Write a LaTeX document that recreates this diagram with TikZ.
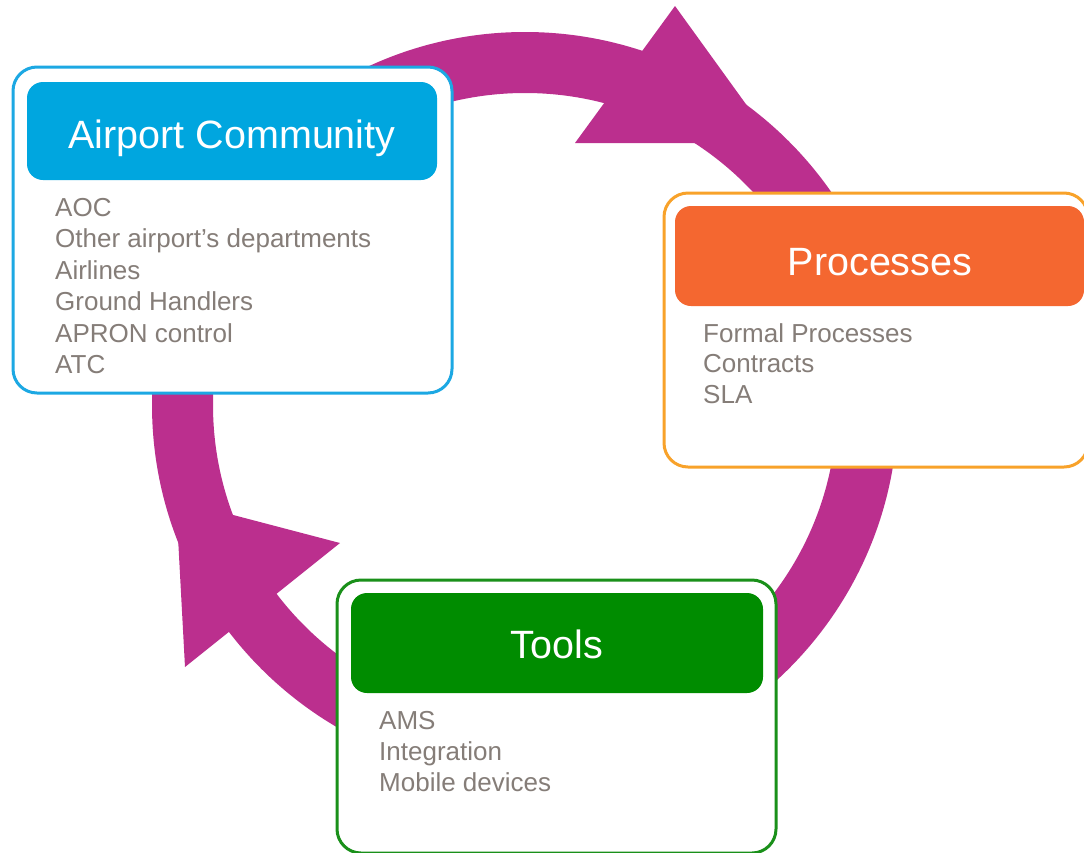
\documentclass[tikz,border=0pt]{standalone}
\usepackage{fontspec}
\setmainfont{Liberation Sans}
\definecolor{ringcol}{RGB}{187,47,142}
\definecolor{cyanborder}{RGB}{28,168,227}
\definecolor{cyanhead}{RGB}{0,166,223}
\definecolor{orangeborder}{RGB}{248,162,42}
\definecolor{orangehead}{RGB}{244,103,48}
\definecolor{greenborder}{RGB}{26,144,26}
\definecolor{greenhead}{RGB}{0,140,0}
\definecolor{itemgrey}{RGB}{133,125,120}
\tikzset{
  ring/.style={fill=ringcol, draw=none},
  outerbox/.style={draw=#1, line width=3pt, fill=white, rounded corners=24pt, rectangle, inner sep=0pt},
  headbox/.style={fill=#1, draw=none, rounded corners=16pt, rectangle, inner sep=0pt},
  headtext/.style={text=white, font=\fontsize{39.5}{44}\selectfont, inner sep=0pt, anchor=base},
  itemtext/.style={text=itemgrey, font=\fontsize{26}{31.5}\selectfont, inner sep=0pt, anchor=base west}
}
\begin{document}
\begin{tikzpicture}[x=1pt,y=-1pt]
\useasboundingbox (0,0) rectangle (1084,852);
% ring with two arrowheads
\fill[ring, even odd rule] (525,405) circle (373pt) (525,405) circle (312pt);
\fill[ring] (675,6) -- (575,143) -- (774,143) -- cycle;
\fill[ring] (340,543) -- (185,667) -- (176,500) -- cycle;
% Airport Community
\node[outerbox=cyanborder, minimum width=439pt, minimum height=326pt] (acbox) at (232.5,230) {};
\node[headbox=cyanhead, minimum width=410pt, minimum height=98pt] (achead) at (232,131) {};
\node[headtext] (actitle) at (232,148) {Airport Community};
\foreach \t [count=\i from 0] in {AOC, Other airport’s departments, Airlines, Ground Handlers, APRON control, ATC}
  \node[itemtext] (ac\i) at (55,216+31.5*\i) {\t};
% Processes
\node[outerbox=orangeborder, minimum width=424pt, minimum height=274pt] (prbox) at (876,330) {};
\node[headbox=orangehead, minimum width=409pt, minimum height=100pt] (prhead) at (879.5,256) {};
\node[headtext] (prtitle) at (880,275) {Processes};
\foreach \t [count=\i from 0] in {Formal Processes, Contracts, SLA}
  \node[itemtext] (pr\i) at (703,342+30.5*\i) {\t};
% Tools
\node[outerbox=greenborder, minimum width=439pt, minimum height=273pt] (tobox) at (556.5,716.5) {};
\node[headbox=greenhead, minimum width=412pt, minimum height=100pt] (tohead) at (557,643) {};
\node[headtext] (totitle) at (557,658) {Tools};
\foreach \t [count=\i from 0] in {AMS, Integration, Mobile devices}
  \node[itemtext] (to\i) at (379,729+31*\i) {\t};
\end{tikzpicture}
\end{document}
